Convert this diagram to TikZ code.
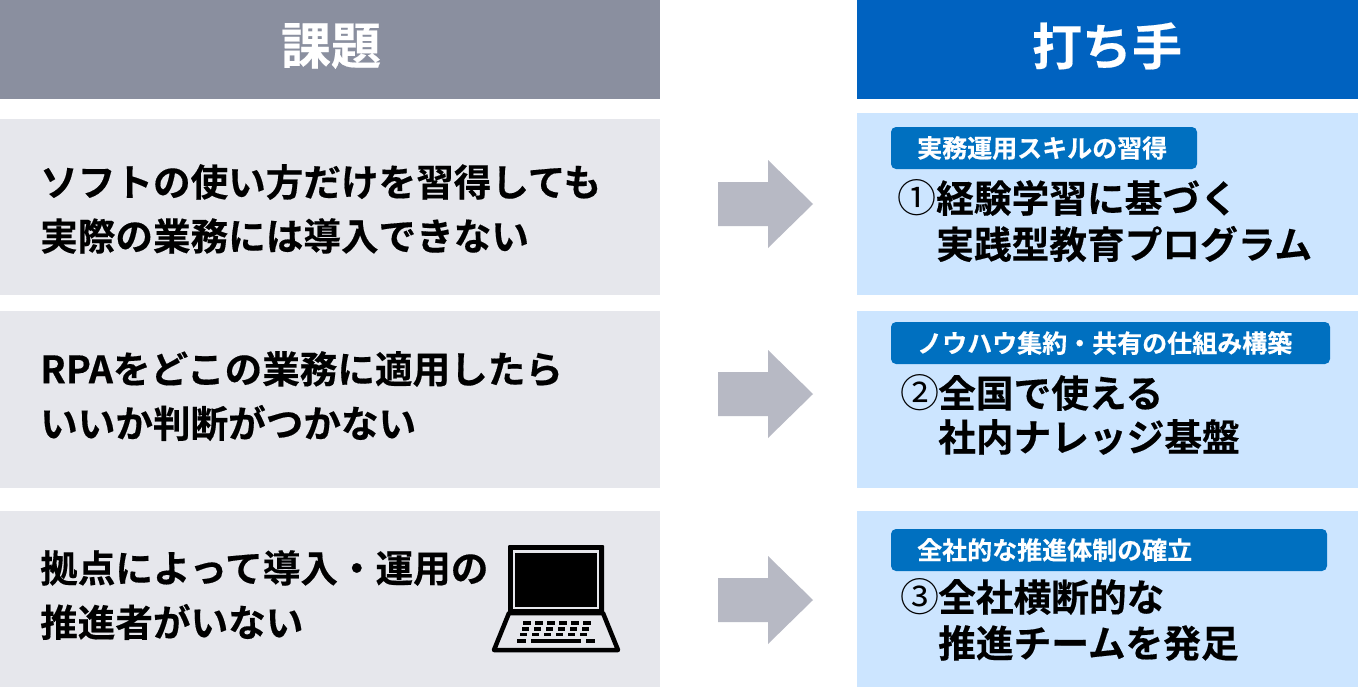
\documentclass[tikz,border=0pt]{standalone}
\usepackage{fontspec}
\setmainfont{Noto Sans CJK JP}[BoldFont={Noto Sans CJK JP Bold},BoldFeatures={FakeBold=0.4}]
\definecolor{hdgray}{HTML}{8A8F9F}
\definecolor{hdblue}{HTML}{0062C0}
\definecolor{rowgray}{HTML}{E6E7EC}
\definecolor{rowblue}{HTML}{CCE5FF}
\definecolor{badgeblue}{HTML}{0070C0}
\definecolor{arrowgray}{HTML}{B7B9C4}
\tikzset{
 x=1pt,y=-1pt,
 hdtext/.style={text=white,font=\bfseries\fontsize{50}{50}\selectfont,inner sep=0pt},
 bodytext/.style={text=black,font=\bfseries\fontsize{37.6}{37.6}\selectfont,inner sep=0pt,anchor=west},
 badgetext/.style={text=white,font=\bfseries\fontsize{25}{25}\selectfont,inner sep=0pt,anchor=west},
 numtext/.style={text=black,font=\bfseries\fontsize{37.7}{37.7}\selectfont,inner sep=0pt,anchor=west},
 circnum/.style={text=black,font=\fontsize{39}{39}\selectfont,inner sep=0pt,anchor=west},
 badge/.style={fill=badgeblue,rounded corners=5pt},
}
\newcommand{\bigarrow}[1]{\fill[arrowgray] (718,#1-22) -- (768,#1-22) -- (768,#1-44) -- (813,#1) -- (768,#1+44) -- (768,#1+22) -- (718,#1+22) -- cycle;}
\begin{document}
\begin{tikzpicture}
\useasboundingbox (0,0) rectangle (1358,693);
\fill[white] (0,0) rectangle (1358,693);
% headers
\fill[hdgray] (0,0) rectangle (660,99);
\fill[hdblue] (857,0) rectangle (1358,99);
\node[hdtext] (h1) at (331,46) {課題};
\node[hdtext] (h2) at (1107,46) {打ち手};
% rows
\fill[rowgray] (0,119) rectangle (660,295);
\fill[rowgray] (0,311) rectangle (660,488);
\fill[rowgray] (0,511) rectangle (660,687);
\fill[rowblue] (857,113) rectangle (1358,295);
\fill[rowblue] (857,311) rectangle (1358,488);
\fill[rowblue] (857,511) rectangle (1358,687);
% left text
\node[bodytext] (l1a) at (40,182) {ソフトの使い方だけを習得しても};
\node[bodytext] (l1b) at (40,236) {実際の業務には導入できない};
\node[bodytext] (l2a) at (40,369) {RPAをどこの業務に適用したら};
\node[bodytext] (l2b) at (40,423) {いいか判断がつかない};
\node[bodytext] (l3a) at (40,568) {拠点によって導入・運用の};
\node[bodytext] (l3b) at (40,622) {推進者がいない};
% arrows
\bigarrow{204}
\bigarrow{394}
\bigarrow{600}
% badges
\fill[badge] (891,127) rectangle (1197,169);
\fill[badge] (891,322) rectangle (1330,364);
\fill[badge] (891,529) rectangle (1327,571);
\node[badgetext] (b1) at (917,148) {実務運用スキルの習得};
\node[badgetext] (b2) at (917,343) {ノウハウ集約・共有の仕組み構築};
\node[badgetext] (b3) at (917,550) {全社的な推進体制の確立};
% right text
\node[circnum] (c1) at (897,198) {①};
\node[numtext] (r1a) at (936,198) {経験学習に基づく};
\node[numtext] (r1b) at (936,244) {実践型教育プログラム};
\node[circnum] (c2) at (900,393) {②};
\node[numtext] (r2a) at (938,393) {全国で使える};
\node[numtext] (r2b) at (938,437) {社内ナレッジ基盤};
\node[circnum] (c3) at (900,597) {③};
\node[numtext] (r3a) at (938,597) {全社横断的な};
\node[numtext] (r3b) at (938,643) {推進チームを発足};
% laptop
\fill[black,rounded corners=1pt] (508,545) rectangle (604,614);
\fill[rowgray] (513,550) rectangle (599,609);
\fill[black] (515,552.5) rectangle (597,607);
\draw[black,line width=4.5pt,line join=round] (509,613) -- (603,613) -- (618,650) -- (494,650) -- cycle;
\foreach \yy/\xs in {621/523.3,627/521.5,632.5/519.5}{
  \foreach \i in {0,...,5}{
    \fill[black] (\xs+\i*12,\yy) rectangle (\xs+\i*12+7.5,\yy+3.7);
  }
}
\fill[black] (517,638.5) rectangle (526,643);
\fill[black] (531,638.5) rectangle (581,643);
\fill[black] (586,638.5) rectangle (595,643);
\end{tikzpicture}
\end{document}
